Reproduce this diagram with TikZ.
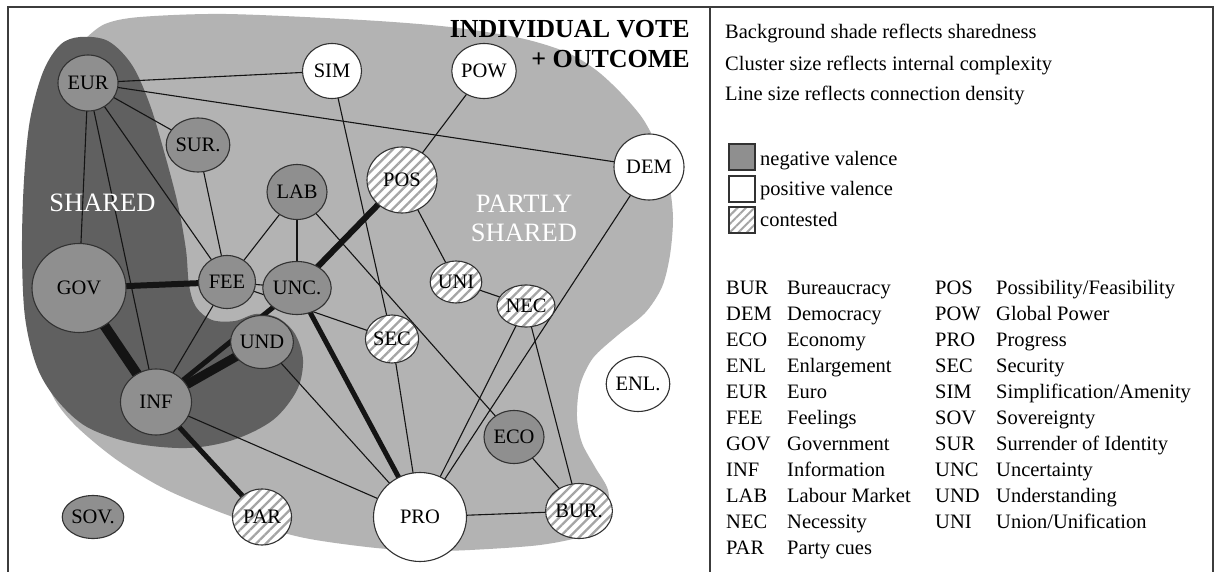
\documentclass[tikz,border=0pt]{standalone}
\usepackage{fontspec}
\setmainfont{Liberation Serif}
\usetikzlibrary{shapes.geometric,patterns.meta}
\definecolor{lightbg}{RGB}{179,179,179}
\definecolor{darkbg}{RGB}{96,96,96}
\definecolor{nodegray}{RGB}{143,143,143}
\definecolor{stripe}{RGB}{165,165,165}
\definecolor{edgecol}{RGB}{20,20,20}
\definecolor{nodeline}{RGB}{50,50,50}
\definecolor{framecol}{RGB}{60,60,60}
\pgfdeclarelayer{bg}
\pgfdeclarelayer{edges}
\pgfsetlayers{bg,edges,main}
\tikzset{
  cnode/.style={ellipse, draw=nodeline, line width=1.1pt, inner sep=0pt, font=\fontsize{20.5}{23}\selectfont},
  negnode/.style={cnode, fill=nodegray},
  posnode/.style={cnode, fill=white},
  connode/.style={cnode, preaction={fill=white}, pattern={Lines[angle=45,distance=7pt,line width=2.3pt]}, pattern color=stripe},
  sz/.style 2 args={minimum width=#1pt, minimum height=#2pt},
  lnk/.style={draw=edgecol, line width=1.1pt},
  lnkw/.style={draw=edgecol, line width=#1pt},
  txt/.style={inner sep=0pt, font=\fontsize{20.5}{24}\selectfont},
  keybox/.style={draw=nodeline, line width=1.1pt, minimum width=26pt, minimum height=26pt, inner sep=0pt},
}
\begin{document}
\begin{tikzpicture}[x=1pt,y=-1pt]
\useasboundingbox (0,0) rectangle (1221,572);
\begin{pgfonlayer}{bg}
\fill[white] (0,0) rectangle (1221,572);
\fill[lightbg] plot[smooth cycle, tension=0.5] coordinates {
(84,40) (105,24) (140,17) (226,14) (362,20) (450,27) (520,38) (566,52) (596,70) (621,93) (643,119) (659,150) (669,183) (673,218) (670,255) (662,287) (645,313) (618,335) (593,358) (580,385) (577,417) (582,443) (595,467) (608,490) (607,515) (585,535) (540,545) (470,550) (420,551) (367,547) (300,537) (233,517) (167,490) (117,460) (77,427) (55,400) (42,365) (38,300) (40,200) (52,110) (75,52)};
\fill[darkbg] plot[smooth cycle, tension=0.55] coordinates {
(80,37) (108,41) (132,65) (150,105) (165,155) (178,205) (186,250) (189,285) (196,307) (212,320) (235,321) (256,314) (278,318) (295,334) (303,360) (297,390) (273,420) (233,440) (187,448) (133,443) (87,427) (57,400) (37,367) (25,317) (22,250) (24,180) (30,120) (43,72) (60,45)};
\end{pgfonlayer}
% frame
\draw[framecol, line width=1.3pt] (8,572) -- (8,7) -- (1213,7) -- (1213,572);
\draw[framecol, line width=1.3pt] (710,7) -- (710,572);
% nodes
\node[negnode, sz={60}{56}] (EUR) at (88,83) {EUR};
\node[posnode, sz={59}{55}] (SIM) at (332,71) {SIM};
\node[posnode, sz={58}{55}] (POW) at (484,71) {POW};
\node[negnode, sz={58}{54}] (SUR) at (198,145) {SUR.};
\node[negnode, sz={60}{55}] (LAB) at (297,192) {LAB};
\node[connode, sz={70}{66}] (POS) at (402,180) {POS};
\node[posnode, sz={70}{66}] (DEM) at (649,167) {DEM};
\node[negnode, sz={94}{89}] (GOV) at (79,288) {GOV};
\node[negnode, sz={57}{53}] (FEE) at (227,282) {FEE};
\node[negnode, sz={58}{53}] (UNC) at (297,288) {UNC.};
\node[negnode, sz={57}{53}] (UND) at (262,342) {UND};
\node[connode, sz={53}{48}] (SEC) at (392,339) {SEC};
\node[negnode, sz={71}{66}] (INF) at (156,402) {INF};
\node[negnode, sz={50}{43}] (SOV) at (93,517) {SOV.};
\node[connode, sz={59}{56}] (PAR) at (262,517) {PAR};
\node[posnode, sz={93}{89}] (PRO) at (420,517) {PRO};
\node[connode, sz={58}{55}] (BUR) at (579,511) {BUR.};
\node[negnode, sz={60}{53}] (ECO) at (514,437) {ECO};
\node[posnode, sz={60}{55}] (ENL) at (638,384) {ENL.};
\node[connode, sz={48}{42}] (NEC) at (526,306) {NEC};
\node[connode, sz={48}{42}] (UNI) at (456,282) {UNI};
% edges
\begin{pgfonlayer}{edges}
\draw[lnk] (EUR.center) -- (SIM.center);
\draw[lnk] (EUR.center) -- (DEM.center);
\draw[lnk] (EUR.center) -- (SUR.center);
\draw[lnk] (EUR.center) -- (GOV.center);
\draw[lnk] (EUR.center) -- (INF.center);
\draw[lnk] (EUR.center) -- (FEE.center);
\draw[lnk] (SUR.center) -- (FEE.center);
\draw[lnk] (LAB.center) -- (FEE.center);
\draw[lnk] (LAB.center) -- (UNC.center);
\draw[lnk] (LAB.center) -- (ECO.center);
\draw[lnk] (SIM.center) -- (SEC.center);
\draw[lnkw=6] (GOV.center) -- (FEE.center);
\draw[lnkw=10] (GOV.center) -- (INF.center);
\draw[lnk] (FEE.center) -- (INF.center);
\draw[lnk] (FEE.center) -- (UNC.center);
\draw[lnk] (FEE.center) -- (SEC.center);
\draw[lnkw=6] (UNC.center) -- (POS.center);
\draw[lnkw=5] (UNC.center) -- (PRO.center);
\draw[lnkw=5] (INF.center) -- (UNC.center);
\draw[lnkw=9] (INF.center) -- (UND.center);
\draw[lnk] (UND.center) -- (PRO.center);
\draw[lnk] (INF.center) -- (PRO.center);
\draw[lnkw=5] (INF.center) -- (PAR.center);
\draw[lnk] (SEC.center) -- (PRO.center);
\draw[lnk] (POS.center) -- (POW.center);
\draw[lnk] (POS.center) -- (UNI.center);
\draw[lnk] (UNI.center) -- (NEC.center);
\draw[lnk] (NEC.center) -- (PRO.center);
\draw[lnk] (DEM.center) -- (PRO.center);
\draw[lnk] (NEC.center) -- (BUR.center);
\draw[lnk] (ECO.center) -- (BUR.center);
\draw[lnk] (PRO.center) -- (BUR.center);
\end{pgfonlayer}
% titles and region labels
\node[anchor=base east, inner sep=0pt, font=\bfseries\fontsize{26}{30}\selectfont] (t1) at (690,38) {INDIVIDUAL VOTE};
\node[anchor=base east, inner sep=0pt, font=\bfseries\fontsize{26}{30}\selectfont] (t2) at (690,68) {+ OUTCOME};
\node[anchor=base, inner sep=0pt, text=white, font=\fontsize{26.5}{30}\selectfont] (sh) at (102.5,212) {SHARED};
\node[anchor=base, inner sep=0pt, text=white, font=\fontsize{26.5}{30}\selectfont] (ps1) at (524,213) {PARTLY};
\node[anchor=base, inner sep=0pt, text=white, font=\fontsize{26.5}{30}\selectfont] (ps2) at (524,242) {SHARED};
% legend
\node[txt, anchor=base west] (g1) at (725,39) {Background shade reflects sharedness};
\node[txt, anchor=base west] (g2) at (725,70.5) {Cluster size reflects internal complexity};
\node[txt, anchor=base west] (g3) at (725,101) {Line size reflects connection density};
\node[keybox, fill=nodegray] (k1) at (742,157) {};
\node[keybox, fill=white] (k2) at (742,189) {};
\node[keybox, preaction={fill=white}, pattern={Lines[angle=45,distance=6pt,line width=2pt]}, pattern color=stripe] (k3) at (742,220) {};
\node[txt, anchor=base west] (kt1) at (760,166) {negative valence};
\node[txt, anchor=base west] (kt2) at (760,196) {positive valence};
\node[txt, anchor=base west] (kt3) at (760,226) {contested};
% abbreviation table
\foreach \a/\b [count=\i] in {BUR/Bureaucracy, DEM/Democracy, ECO/Economy, ENL/Enlargement, EUR/Euro, FEE/Feelings, GOV/Government, INF/Information, LAB/Labour Market, NEC/Necessity, PAR/Party cues}
{
  \node[txt, anchor=base west] (ta\i) at (726,{294.3+26*(\i-1)}) {\a};
  \node[txt, anchor=base west] (tb\i) at (787,{294.3+26*(\i-1)}) {\b};
}
\foreach \a [count=\i] in {POS, POW, PRO, SEC, SIM, SOV, SUR, UNC, UND, UNI}
{
  \node[txt, anchor=base west] (tc\i) at (935,{294.3+26*(\i-1)}) {\a};
}
\node[txt, anchor=base west] (td1) at (996,294.3) {Possibility/Feasibility};
\node[txt, anchor=base west] (td2) at (996,320.3) {Global Power};
\node[txt, anchor=base west] (td3) at (996,346.3) {Progress};
\node[txt, anchor=base west] (td4) at (996,372.3) {Security};
\node[txt, anchor=base west] (td5) at (996,398.3) {Simplification/Amenity};
\node[txt, anchor=base west] (td6) at (996,424.3) {Sovereignty};
\node[txt, anchor=base west] (td7) at (996,450.3) {Surrender of Identity};
\node[txt, anchor=base west] (td8) at (996,476.3) {Uncertainty};
\node[txt, anchor=base west] (td9) at (996,502.3) {Understanding};
\node[txt, anchor=base west] (td10) at (996,528.3) {Union/Unification};
\end{tikzpicture}
\end{document}
